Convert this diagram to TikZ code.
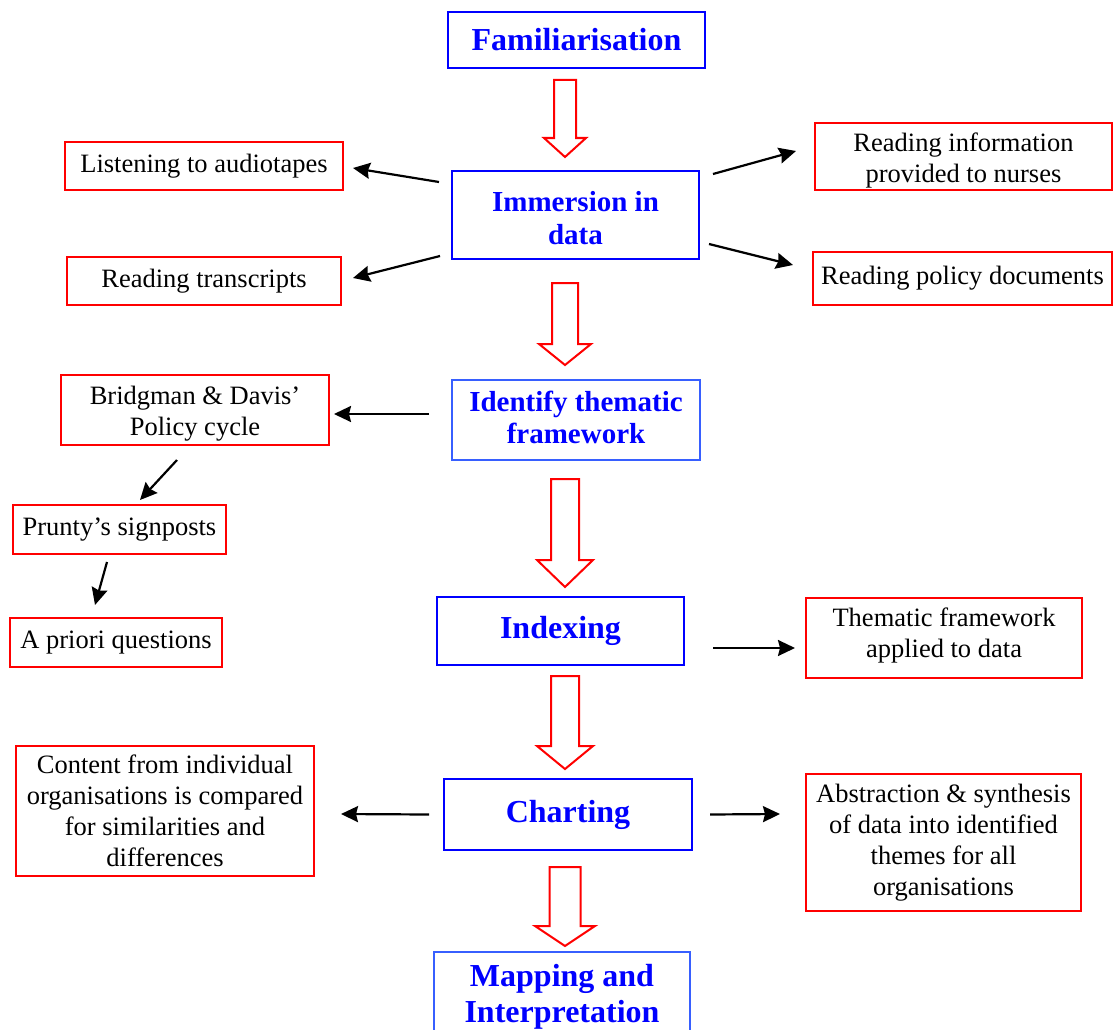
\documentclass[tikz,border=0pt]{standalone}
\usepackage{fontspec}
\setmainfont{Liberation Serif}
\usetikzlibrary{arrows.meta,calc}

\definecolor{stepblue}{RGB}{0,0,255}
\definecolor{softblue}{RGB}{55,95,255}
\definecolor{boxred}{RGB}{255,0,0}

\tikzset{
  stage/.style={draw=stepblue, line width=2pt, rectangle, inner sep=0pt,
    align=center, text=stepblue, font=\bfseries\fontsize{32}{36}\selectfont},
  softstage/.style={stage, draw=softblue},
  note/.style={draw=boxred, line width=2pt, rectangle, inner sep=0pt,
    align=center, text=black, font=\fontsize{26.5}{31}\selectfont},
  link/.style={line width=2.2pt, -{Stealth[length=17pt,width=16pt,inset=2pt]}},
  blockarrow/.style={draw=boxred, line width=2pt, fill=white, line join=miter}
}

% struts that move a multi-line text block within its box
\newcommand\topstrut[1]{\rule{0pt}{#1}}
\newcommand\botstrut[1]{\rule[-#1]{0pt}{#1}}

% hollow downward block arrow: centre x, top, neck, tip, shaft half width, head half width
\newcommand\blockdown[6]{%
  \draw[blockarrow] (#1-#5,#2) -- (#1+#5,#2) -- (#1+#5,#3) -- (#1+#6,#3)
    -- (#1,#4) -- (#1-#6,#3) -- (#1-#5,#3) -- cycle;}

\begin{document}
\begin{tikzpicture}[x=1pt,y=-1pt]
\useasboundingbox (0,0) rectangle (1113,1030);

% main stages
\node[stage, minimum width=257, minimum height=56] (fam) at (576.5,40) {Familiarisation};
\node[stage, minimum width=247, minimum height=88,
      font=\bfseries\fontsize{29}{33}\selectfont] (imm) at (575.5,215)
      {\topstrut{26pt}Immersion in\\data};
\node[softstage, minimum width=248, minimum height=80,
      font=\bfseries\fontsize{29}{32}\selectfont] (ident) at (576,420)
      {Identify thematic\\framework\botstrut{5pt}};
\node[stage, minimum width=247, minimum height=68] (index) at (560.5,631) {Indexing};
\node[stage, minimum width=248, minimum height=71] (chart) at (568,814.5) {Charting};
\node[softstage, minimum width=256, minimum height=82] (mapping) at (562,993)
      {\topstrut{29pt}Mapping and\\Interpretation};

% side notes
\node[note, minimum width=278, minimum height=48] (listen) at (204,166) {Listening to audiotapes};
\node[note, minimum width=274, minimum height=48] (transc) at (204,281) {Reading transcripts};
\node[note, minimum width=297, minimum height=67] (info) at (963.5,156.5)
  {\topstrut{27pt}Reading information\\provided to nurses};
\node[note, minimum width=299, minimum height=53] (policy) at (962.5,278.5) {Reading policy documents};
\node[note, minimum width=268, minimum height=70] (bridg) at (195,410)
  {\topstrut{26pt}Bridgman \& Davis’\\Policy cycle};
\node[note, minimum width=213, minimum height=49] (prunty) at (119.5,529.5) {Prunty’s signposts};
\node[note, minimum width=212, minimum height=49] (apriori) at (116,642.5) {A priori questions};
\node[note, minimum width=276, minimum height=80] (theme) at (944,638)
  {Thematic framework\\applied to data\botstrut{11.5pt}};
\node[note, minimum width=298, minimum height=130] (content) at (165,811)
  {Content from individual\\organisations is compared\\for similarities and\\differences};
\node[note, minimum width=275, minimum height=137] (abstr) at (943.5,842.5)
  {Abstraction \& synthesis\\of data into identified\\themes for all\\organisations};

% flow between stages
\blockdown{565}{80}{138}{157}{11}{21}
\blockdown{565}{283}{344}{365}{13}{26}
\blockdown{565}{479}{560}{587}{14}{28}
\blockdown{565}{676}{746}{769}{14}{28}
\blockdown{565}{867}{926}{946}{15.5}{30}

% links to side notes
\draw[link] ($(imm.north west)+(-12,12)$) -- ($(listen.east)+(9,2)$);
\draw[link] ($(imm.south west)+(-11,-4)$) -- ($(transc.east)+(11,-3)$);
\draw[link] ($(imm.north east)+(13,4)$) -- ($(info.west)+(-18,-5.5)$);
\draw[link] ($(imm.south east)+(9,-16)$) -- ($(policy.west)+(-19,-13.5)$);
\draw[link] ($(ident.west)+(-22,-6)$) -- ($(bridg.east)+(4,4)$);
\draw[link] ($(bridg.south)+(-18,14)$) -- ($(prunty.north)+(20.5,-4)$);
\draw[link] ($(prunty.south)+(-12.5,7)$) -- ($(apriori.north)+(-21,-12)$);
\draw[link] ($(index.east)+(28,17)$) -- ($(theme.west)+(-10,10)$);
\draw[link] ($(chart.west)+(-14,0)$) -- ($(content.east)+(26,3)$);
\draw[link] ($(chart.east)+(17,0)$) -- ($(abstr.west)+(-25,-28.5)$);
\end{tikzpicture}
\end{document}
